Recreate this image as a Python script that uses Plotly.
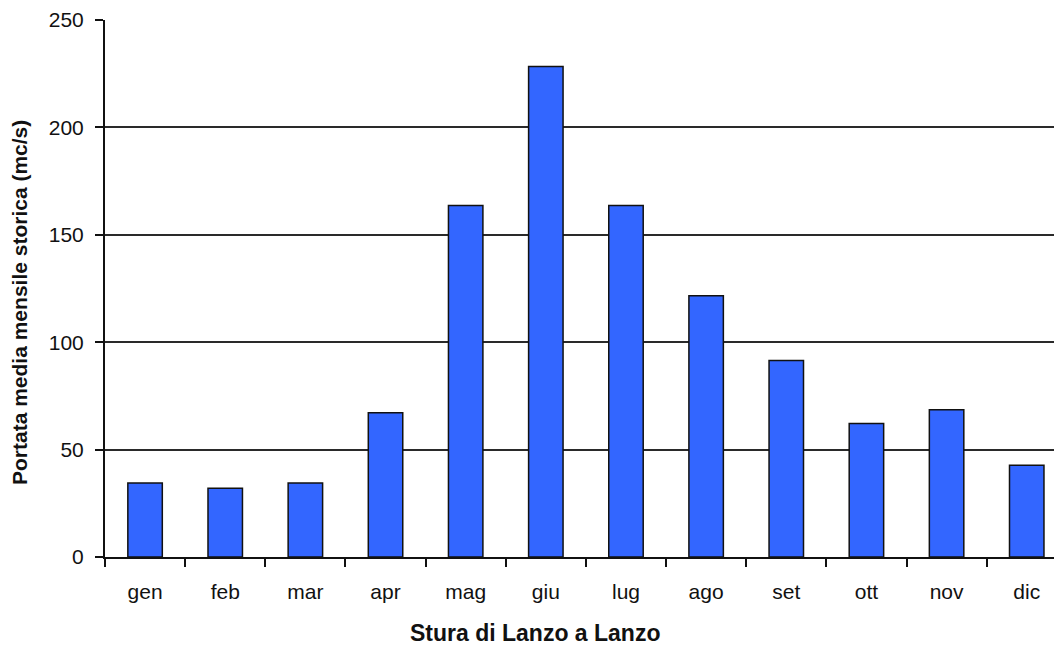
import plotly.graph_objects as go

mesi = ["gen", "feb", "mar", "apr", "mag", "giu", "lug", "ago", "set", "ott", "nov", "dic"]
portata = [34.4, 32.0, 34.4, 67.2, 163.6, 228.3, 163.6, 121.6, 91.5, 62.1, 68.6, 42.7]
y_ticks = [0, 50, 100, 150, 200, 250]

font_family = "Liberation Sans, Arial, sans-serif"

fig = go.Figure()

fig.add_trace(go.Bar(
    x=mesi, y=portata,
    width=0.43,
    marker=dict(color="#3366FF", line=dict(color="#111111", width=1.5)),
))

# page body has an 8px margin, so the figure is shrunk by that much
fig.update_layout(
    width=1054, height=644,
    margin=dict(l=97, r=0, t=12, b=95),
    plot_bgcolor="white",
    paper_bgcolor="white",
    showlegend=False,
    font=dict(family=font_family, size=21, color="#111111"),
    annotations=[
        dict(text="<b>Portata media mensile storica (mc/s)</b>", textangle=-90,
             xref="paper", yref="paper", x=-0.0888, y=0.473,
             xanchor="center", yanchor="middle", showarrow=False,
             font=dict(size=21, color="#111111")),
        dict(text="<b>Stura di Lanzo a Lanzo</b>",
             xref="paper", yref="paper", x=0.449, y=-0.1415,
             xanchor="center", yanchor="middle", showarrow=False,
             font=dict(size=23, color="#111111")),
    ],
)

fig.update_xaxes(
    type="category",
    range=[-0.5, 11.44],
    showline=True, linecolor="#111111", linewidth=2,
    ticks="outside", tickson="boundaries", ticklen=8, tickwidth=2, tickcolor="#111111",
    ticklabelstandoff=15,
    showgrid=False,
)

fig.update_yaxes(
    range=[0, 250],
    tickvals=y_ticks,
    showline=True, linecolor="#111111", linewidth=2,
    ticks="outside", ticklen=8, tickwidth=2, tickcolor="#111111",
    ticklabelstandoff=7,
    showgrid=True, gridcolor="#2a2a2a", gridwidth=1.5,
    zeroline=False,
)

fig.write_html("out.html")
